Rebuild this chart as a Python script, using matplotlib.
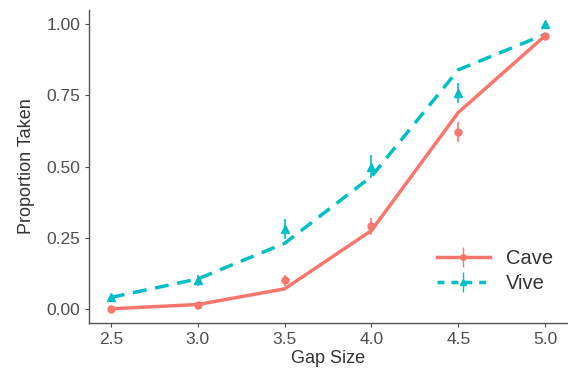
import matplotlib.pyplot as plt

plt.rcParams['font.family'] = ['Liberation Sans', 'DejaVu Sans']

gap = [2.5, 3.0, 3.5, 4.0, 4.5, 5.0]
cave_fit = [0.0, 0.015, 0.07, 0.275, 0.69, 0.96]
vive_fit = [0.04, 0.105, 0.23, 0.465, 0.84, 0.965]
cave_obs = [0.0, 0.015, 0.10, 0.29, 0.62, 0.96]
vive_obs = [0.04, 0.10, 0.28, 0.50, 0.76, 1.00]
cave_err = [0.005, 0.008, 0.02, 0.03, 0.035, 0.005]
vive_err = [0.01, 0.02, 0.035, 0.04, 0.035, 0.005]

red = '#F8766D'
teal = '#00BFC4'

fig, ax = plt.subplots(figsize=(5.68, 3.73), dpi=100)
fig.subplots_adjust(left=0.157, right=0.998, top=0.973, bottom=0.134)

ax.plot(gap, cave_fit, color=red, lw=2.5, ls='-')
ax.plot(gap, vive_fit, color=teal, lw=2.5, ls=(0, (4, 2.5)))
ax.errorbar(gap, cave_obs, yerr=cave_err, color=red, marker='o', ms=5, ls='none', elinewidth=1.2, capsize=0)
ax.errorbar(gap, vive_obs, yerr=vive_err, color=teal, marker='^', ms=6, ls='none', elinewidth=1.2, capsize=0)

h1 = ax.errorbar([], [], yerr=[], color=red, marker='o', ms=4, ls='-', lw=2.5, elinewidth=1)
h2 = ax.errorbar([], [], yerr=[], color=teal, marker='^', ms=5, ls=(0, (2, 2)), lw=2.5, elinewidth=1)
ax.legend([h1, h2], ['Cave', 'Vive'], loc='lower right', frameon=False, fontsize=14.5,
          handlelength=2.6, borderaxespad=0.3, labelspacing=0.3, labelcolor='#333333',
          bbox_to_anchor=(1.0, 0.05))

ax.set_xlim(2.375, 5.125)
ax.set_ylim(-0.05, 1.05)
ax.set_xticks(gap)
ax.set_xticklabels(['2.5', '3.0', '3.5', '4.0', '4.5', '5.0'])
ax.set_yticks([0, 0.25, 0.5, 0.75, 1.0])
ax.set_yticklabels(['0.00', '0.25', '0.50', '0.75', '1.00'])
ax.set_xlabel('Gap Size', fontsize=13, color='#333333', labelpad=2)
ax.set_ylabel('Proportion Taken', fontsize=13, color='#333333', labelpad=8)
ax.tick_params(labelsize=12.5, colors='#4D4D4D', length=3, width=0.8)
for s in ['top', 'right']:
    ax.spines[s].set_visible(False)
for s in ['left', 'bottom']:
    ax.spines[s].set_color('#555555')
    ax.spines[s].set_linewidth(1.0)

plt.savefig('out.png', dpi=100)
